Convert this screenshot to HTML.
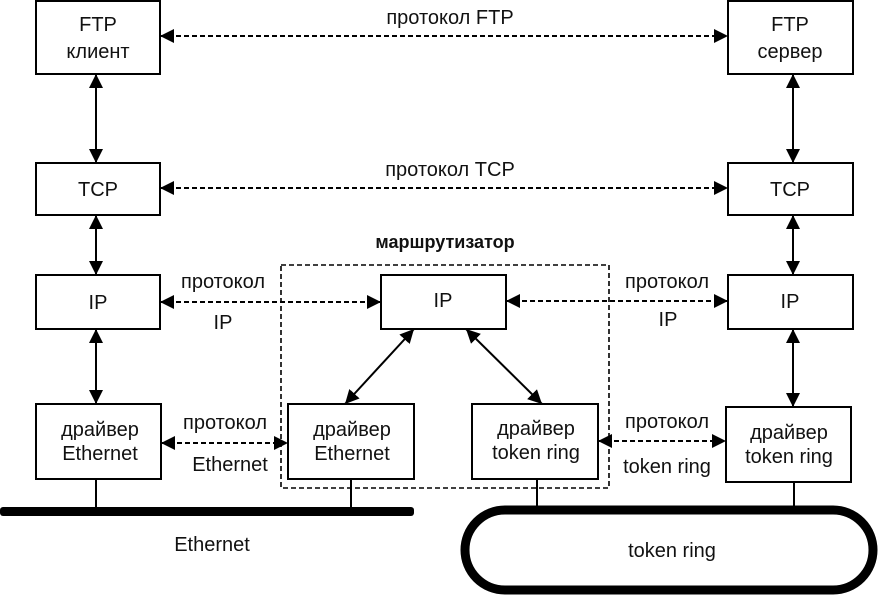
<!DOCTYPE html>
<html><head><meta charset="utf-8"><style>
body{margin:0;background:#fff;}
svg text{font-family:"Liberation Sans",sans-serif;font-size:20px;fill:#111;}
</style></head><body>
<svg width="878" height="596" viewBox="0 0 878 596" xmlns="http://www.w3.org/2000/svg">
<defs>
<marker id="a" viewBox="0 0 10 10" refX="10" refY="5" markerWidth="14" markerHeight="14" markerUnits="userSpaceOnUse" orient="auto-start-reverse"><path d="M0,0L10,5L0,10z" fill="#000"/></marker>
</defs>
<g fill="none" stroke="#000" stroke-width="2">
<rect x="36" y="1" width="124" height="73"/>
<rect x="728" y="1" width="125" height="73"/>
<rect x="36" y="163" width="124" height="52"/>
<rect x="728" y="163" width="125" height="52"/>
<rect x="36" y="275" width="124" height="54"/>
<rect x="728" y="275" width="125" height="54"/>
<rect x="381" y="275" width="125" height="54"/>
<rect x="36" y="404" width="125" height="75"/>
<rect x="288" y="404" width="126" height="75"/>
<rect x="472" y="404" width="126" height="75"/>
<rect x="726" y="407" width="125" height="75"/>
<rect x="281" y="265" width="328" height="223" stroke-dasharray="5,3" stroke-width="1.6"/>
<line x1="96" y1="479" x2="96" y2="509"/>
<line x1="351" y1="479" x2="351" y2="509"/>
<line x1="537" y1="479" x2="537" y2="510"/>
<line x1="794" y1="482" x2="794" y2="510"/>
</g>
<rect x="0" y="507" width="414" height="9" rx="3" fill="#000"/>
<rect x="465" y="510" width="408" height="80" rx="40" fill="none" stroke="#000" stroke-width="9"/>
<g stroke="#000" stroke-width="2" fill="none">
<line x1="96" y1="74" x2="96" y2="163" marker-start="url(#a)" marker-end="url(#a)"/>
<line x1="793" y1="74" x2="793" y2="163" marker-start="url(#a)" marker-end="url(#a)"/>
<line x1="96" y1="215" x2="96" y2="275" marker-start="url(#a)" marker-end="url(#a)"/>
<line x1="793" y1="215" x2="793" y2="275" marker-start="url(#a)" marker-end="url(#a)"/>
<line x1="96" y1="329" x2="96" y2="404" marker-start="url(#a)" marker-end="url(#a)"/>
<line x1="793" y1="329" x2="793" y2="407" marker-start="url(#a)" marker-end="url(#a)"/>
<line x1="414" y1="329" x2="345" y2="404" marker-start="url(#a)" marker-end="url(#a)"/>
<line x1="466" y1="329" x2="542" y2="404" marker-start="url(#a)" marker-end="url(#a)"/>
<g stroke-dasharray="5,3">
<line x1="160" y1="36" x2="728" y2="36" marker-start="url(#a)" marker-end="url(#a)"/>
<line x1="160" y1="188" x2="728" y2="188" marker-start="url(#a)" marker-end="url(#a)"/>
<line x1="160" y1="302" x2="381" y2="302" marker-start="url(#a)" marker-end="url(#a)"/>
<line x1="506" y1="301" x2="728" y2="301" marker-start="url(#a)" marker-end="url(#a)"/>
<line x1="161" y1="443" x2="288" y2="443" marker-start="url(#a)" marker-end="url(#a)"/>
<line x1="598" y1="441" x2="726" y2="441" marker-start="url(#a)" marker-end="url(#a)"/>
</g>
</g>
<g text-anchor="middle">
<text x="98" y="31">FTP</text><text x="98" y="58">клиент</text>
<text x="790" y="31">FTP</text><text x="790" y="58">сервер</text>
<text x="98" y="196">TCP</text><text x="790" y="196">TCP</text>
<text x="98" y="309">IP</text><text x="443" y="307">IP</text><text x="790" y="308">IP</text>
<text x="100" y="436">драйвер</text><text x="100" y="460">Ethernet</text>
<text x="352" y="436">драйвер</text><text x="352" y="460">Ethernet</text>
<text x="536" y="435">драйвер</text><text x="536" y="459">token ring</text>
<text x="789" y="439">драйвер</text><text x="789" y="463">token ring</text>
<text x="450" y="24">протокол FTP</text>
<text x="450" y="176">протокол TCP</text>
<text x="445" y="248" style="font-weight:bold;font-size:18px">маршрутизатор</text>
<text x="223" y="288">протокол</text><text x="223" y="329">IP</text>
<text x="667" y="288">протокол</text><text x="668" y="326">IP</text>
<text x="225" y="429">протокол</text><text x="230" y="471">Ethernet</text>
<text x="667" y="428">протокол</text><text x="667" y="473">token ring</text>
<text x="212" y="551">Ethernet</text>
<text x="672" y="557">token ring</text>
</g>
</svg>
</body></html>
